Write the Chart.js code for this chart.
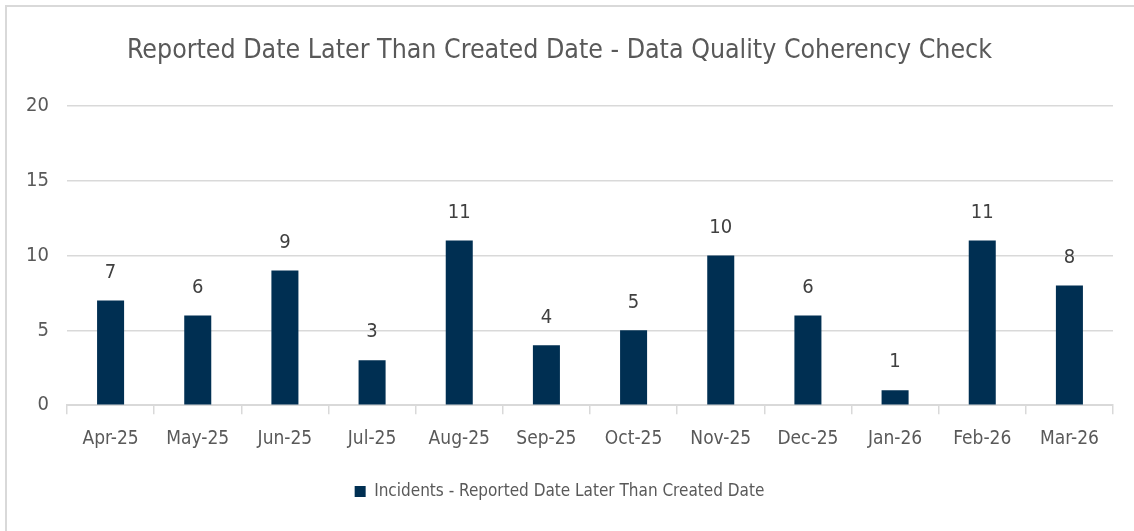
<!DOCTYPE html>
<html>
<head>
<meta charset="utf-8">
<script src="https://cdn.jsdelivr.net/npm/chart.js@4.4.1/dist/chart.umd.min.js"></script>
<style>
  html, body { margin: 0; padding: 0; background: #fff; }
  #wrap { position: absolute; left: 0; top: 0; width: 1134px; height: 531px; }
  #frame { position: absolute; left: 5px; top: 5px; right: -5px; bottom: -5px; border: 2px solid #d9d9d9; }
</style>
</head>
<body>
<div id="wrap">
  <div id="frame"></div>
  <canvas id="chart" width="1134" height="531"></canvas>
</div>
<script>
const months = ['Apr-25', 'May-25', 'Jun-25', 'Jul-25', 'Aug-25', 'Sep-25', 'Oct-25', 'Nov-25', 'Dec-25', 'Jan-26', 'Feb-26', 'Mar-26'];
const incidents = [7, 6, 9, 3, 11, 4, 5, 10, 6, 1, 11, 8];
const seriesName = 'Incidents - Reported Date Later Than Created Date';
const chartTitle = 'Reported Date Later Than Created Date - Data Quality Coherency Check';

const FONT = "'DejaVu Sans Condensed', 'Liberation Sans Narrow', sans-serif";

// draws the value above each bar
const valueLabels = {
  id: 'valueLabels',
  afterDatasetsDraw(chart) {
    const ctx = chart.ctx;
    const meta = chart.getDatasetMeta(0);
    ctx.save();
    ctx.font = '20px ' + FONT;
    ctx.fillStyle = '#404040';
    ctx.textAlign = 'center';
    ctx.textBaseline = 'middle';
    meta.data.forEach((bar, i) => {
      ctx.fillText(chart.data.datasets[0].data[i], bar.x, bar.y - 28);
    });
    ctx.restore();
  }
};

new Chart(document.getElementById('chart'), {
  type: 'bar',
  data: {
    labels: months,
    datasets: [{
      label: seriesName,
      data: incidents,
      backgroundColor: '#002f52',
      barPercentage: 0.31,
      categoryPercentage: 1.0
    }]
  },
  options: {
    responsive: false,
    animation: false,
    layout: { padding: { left: 6, right: 21, top: 15, bottom: 21 } },
    plugins: {
      title: {
        display: true,
        text: chartTitle,
        color: '#595959',
        font: { family: FONT, size: 26.5, weight: 'normal' },
        padding: { top: 20, bottom: 39 }
      },
      legend: {
        position: 'bottom',
        labels: {
          color: '#595959',
          font: { family: FONT, size: 17 },
          boxWidth: 11,
          boxHeight: 11,
          padding: 20
        }
      },
      tooltip: { enabled: false }
    },
    scales: {
      y: {
        min: 0,
        max: 20,
        ticks: { stepSize: 5, color: '#595959', font: { family: FONT, size: 20 }, padding: 18 },
        grid: { color: '#d9d9d9', lineWidth: 1.5, drawTicks: false },
        border: { display: false },
        afterFit(scale) { scale.width = 61; }
      },
      x: {
        ticks: { color: '#595959', font: { family: FONT, size: 19 }, padding: 13, maxRotation: 0 },
        grid: { offset: true, drawOnChartArea: false, color: '#d9d9d9', lineWidth: 1.5, tickLength: 9 },
        border: { color: '#d9d9d9', width: 2 }
      }
    }
  },
  plugins: [valueLabels]
});
</script>
</body>
</html>
